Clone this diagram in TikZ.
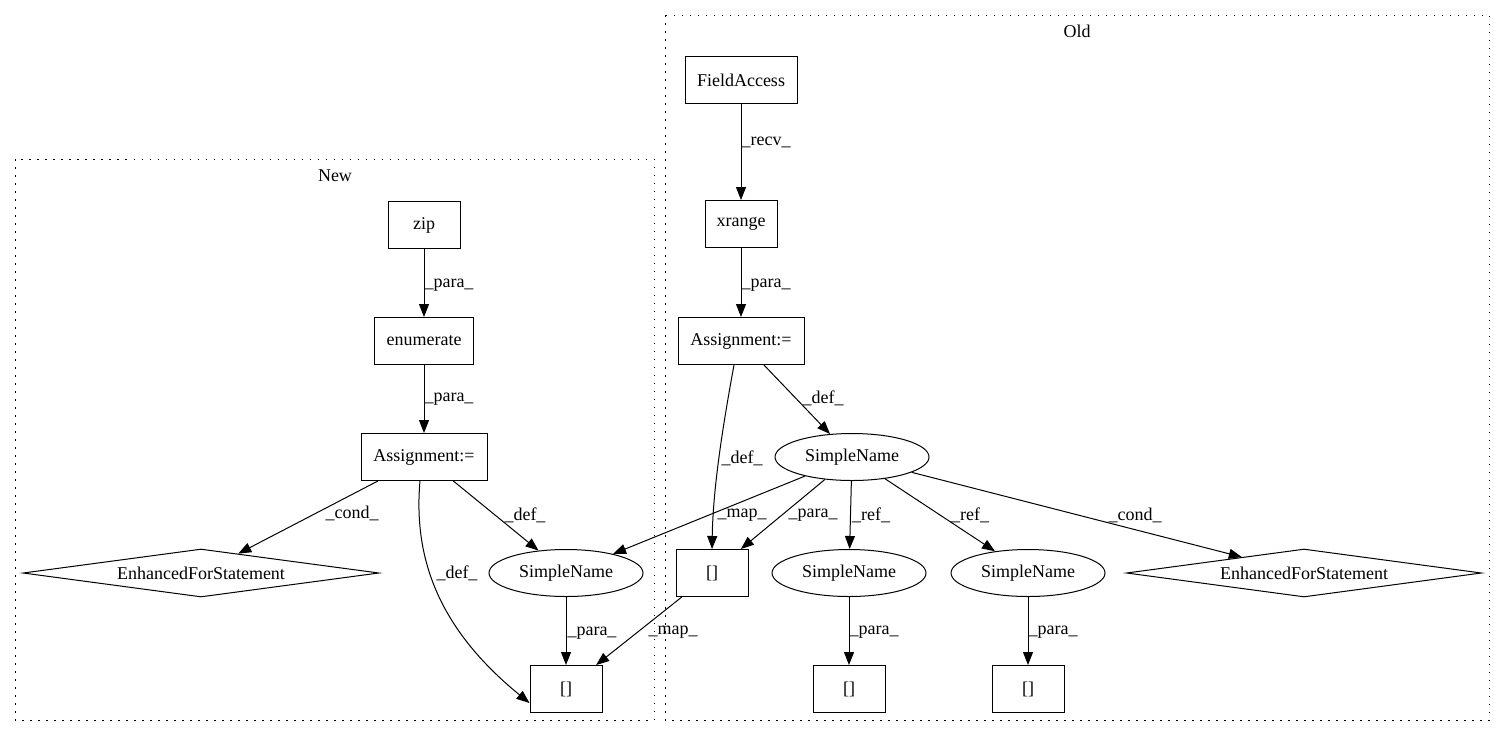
\documentclass[tikz,border=0pt]{standalone}
\usepackage{fontspec}
\setmainfont{Liberation Serif}
\usetikzlibrary{shapes.geometric,arrows.meta}
\begin{document}
\begin{tikzpicture}[x=1pt,y=-1pt,
  every node/.style={font=\fontsize{18}{20}\selectfont, inner sep=0pt},
  boxnode/.style={draw, line width=1pt, rectangle, minimum height=47pt},
  ellnode/.style={draw, line width=1pt, ellipse, minimum width=154pt, minimum height=47pt},
  dianode/.style={draw, line width=1pt, diamond, aspect=7.4, minimum width=355pt, minimum height=48pt},
  edge/.style={draw, line width=1pt, -{Triangle[length=13pt,width=10pt]}},
  lbl/.style={font=\fontsize{18}{20}\selectfont},
  cluster/.style={draw, line width=1pt, dash pattern=on 1.5pt off 6.5pt}
]
\useasboundingbox (0,0) rectangle (1505,740);
% clusters
\draw[cluster] (15,159) rectangle (654,720);
\node (newlbl) at (335,176) {New};
\draw[cluster] (665,15) rectangle (1489,720);
\node (oldlbl) at (1077,31) {Old};

% New nodes
\node[boxnode, minimum width=72pt] (zip) at (424,225) {zip};
\node[boxnode, minimum width=99pt] (enum) at (424,341) {enumerate};
\node[boxnode, minimum width=126pt] (nassign) at (424,457) {Assignment:=};
\node[dianode, minimum width=356pt] (nfor) at (201,573) {EnhancedForStatement};
\node[ellnode] (nsn) at (566,573) {SimpleName};
\node[boxnode, minimum width=72pt] (nbr) at (566,689) {[]};

% Old nodes
\node[boxnode, minimum width=112pt] (fa) at (741,80) {FieldAccess};
\node[boxnode, minimum width=72pt] (xr) at (741,224) {xrange};
\node[boxnode, minimum width=126pt] (oassign) at (741,341) {Assignment:=};
\node[ellnode] (osn) at (852,457) {SimpleName};
\node[boxnode, minimum width=72pt] (obr) at (712,573) {[]};
\node[ellnode] (osn2) at (849,573) {SimpleName};
\node[ellnode] (osn3) at (1028,573) {SimpleName};
\node[dianode] (ofor) at (1304,573) {EnhancedForStatement};
\node[boxnode, minimum width=72pt] (obr2) at (849,689) {[]};
\node[boxnode, minimum width=72pt] (obr3) at (1028,689) {[]};

% New edges
\draw[edge] (zip) -- (enum);
\draw[edge] (enum) -- (nassign);
\draw[edge] (nassign) -- (nfor);
\draw[edge] (nassign) -- (nsn);
\draw[edge] ([xshift=-4pt]nassign.south) .. controls (413,560) and (440,630) .. ([yshift=-14pt]nbr.west);
\draw[edge] (nsn) -- (nbr);

% Old edges
\draw[edge] (fa) -- (xr);
\draw[edge] (xr) -- (oassign);
\draw[edge] (oassign) -- (osn);
\draw[edge] ([xshift=-7pt]oassign.south) .. controls (722,430) and (713,490) .. (obr.north);
\draw[edge] (osn) -- (obr);
\draw[edge] (osn) -- (nsn);
\draw[edge] (osn) -- (osn2);
\draw[edge] (osn) -- (osn3);
\draw[edge] (osn) -- (ofor);
\draw[edge] (obr) -- (nbr);
\draw[edge] (osn2) -- (obr2);
\draw[edge] (osn3) -- (obr3);

% labels
\node[lbl] (l1) at (449,285) {\_para\_};
\node[lbl] (l2) at (449,399) {\_para\_};
\node[lbl] (l3) at (352,513) {\_cond\_};
\node[lbl] (l4) at (525,515) {\_def\_};
\node[lbl] (l5) at (457,573) {\_def\_};
\node[lbl] (l6) at (592,633) {\_para\_};
\node[lbl] (l7) at (766,142) {\_recv\_};
\node[lbl] (l8) at (766,285) {\_para\_};
\node[lbl] (l9) at (823,398) {\_def\_};
\node[lbl] (l10) at (742,458) {\_def\_};
\node[lbl] (l11) at (742,515) {\_map\_};
\node[lbl] (l12) at (813,515) {\_para\_};
\node[lbl] (l13) at (871,515) {\_ref\_};
\node[lbl] (l14) at (970,515) {\_ref\_};
\node[lbl] (l15) at (1135,515) {\_cond\_};
\node[lbl] (l16) at (673,632) {\_map\_};
\node[lbl] (l17) at (874,632) {\_para\_};
\node[lbl] (l18) at (1053,632) {\_para\_};
\end{tikzpicture}
\end{document}
